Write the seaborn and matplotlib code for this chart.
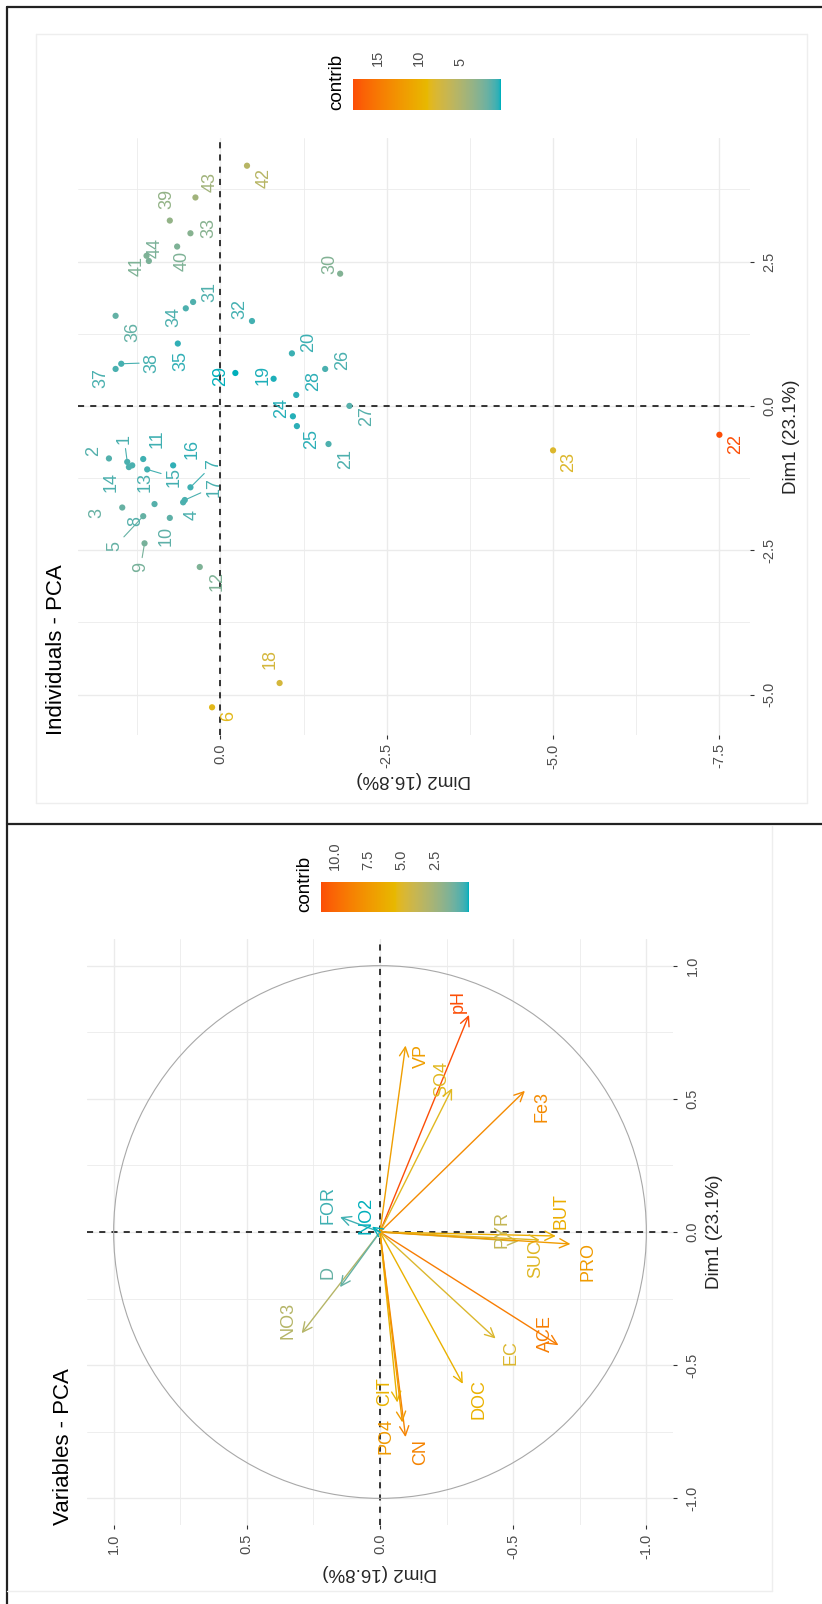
import numpy as np
import pandas as pd
import matplotlib
matplotlib.use("Agg")
import matplotlib.pyplot as plt
import seaborn as sns
from matplotlib.colors import ListedColormap, Normalize, to_rgb
from matplotlib.cm import ScalarMappable
from matplotlib.lines import Line2D
from matplotlib.patches import Circle

# ---------------- data ----------------
var_names = ["pH", "VP", "SO4", "Fe3", "BUT", "PYR", "SUC", "PRO", "ACE",
             "EC", "DOC", "CN", "CIT", "PO4", "NO3", "D", "FOR", "NO2"]
var_dim1 = [0.815, 0.70, 0.54, 0.53, -0.015, -0.035, -0.03, -0.045, -0.425,
            -0.40, -0.57, -0.77, -0.64, -0.715, -0.38, -0.207, 0.056, 0.02]
var_dim2 = [-0.334, -0.096, -0.271, -0.544, -0.66, -0.52, -0.60, -0.715, -0.67,
            -0.434, -0.311, -0.096, -0.065, -0.084, 0.294, 0.15, 0.15, 0.03]

ind_ids = [str(i) for i in range(1, 45)]
ind_dim1 = [-0.97, -0.91, -1.76, -1.67, -1.91, -5.22, -1.41, -1.70, -2.38, -1.94,
            -0.92, -2.79, -1.03, -1.06, -1.10, -1.03, -1.63, -4.80, 0.47, 0.91,
            -0.66, -0.50, -0.77, -0.18, -0.35, 0.64, 0.00, 0.19, 0.57, 2.29,
            1.80, 1.47, 2.99, 1.69, 1.08, 1.56, 0.64, 0.73, 3.21, 2.76,
            2.60, 4.16, 3.61, 2.51]
ind_dim2 = [1.40, 1.675, 1.475, 0.56, 1.16, 0.125, 0.45, 0.99, 1.14, 0.76,
            1.16, 0.31, 1.325, 1.375, 1.10, 0.71, 0.535, -0.89, -0.80, -1.075,
            -1.625, -7.5, -5.0, -1.09, -1.15, -1.575, -1.94, -1.14, -0.225, -1.80,
            0.41, -0.475, 0.45, 0.52, 0.64, 1.575, 1.575, 1.49, 0.76, 0.65,
            1.11, -0.40, 0.375, 1.075]

dim1_label = "Dim1 (23.1%)"
dim2_label = "Dim2 (16.8%)"
ind_title = "Individuals - PCA"
var_title = "Variables - PCA"
legend_title = "contrib"
ind_cbar_ticks = [5, 10, 15]
var_cbar_ticks = [2.5, 5.0, 7.5, 10.0]
gradient_cols = ["#00AFBB", "#E7B800", "#FC4E07"]

# contribution of each element to the Dim1-Dim2 plane (%)
ind_d2 = np.array(ind_dim1) ** 2 + np.array(ind_dim2) ** 2
ind_contrib = 100 * ind_d2 / ind_d2.sum()
var_d2 = np.array(var_dim1) ** 2 + np.array(var_dim2) ** 2
var_contrib = 100 * var_d2 / var_d2.sum()

ind_df = pd.DataFrame({"id": ind_ids, "Dim1": ind_dim1, "Dim2": ind_dim2,
                       "contrib": ind_contrib})
var_df = pd.DataFrame({"name": var_names, "Dim1": var_dim1, "Dim2": var_dim2,
                       "contrib": var_contrib})

# ---------------- layout / style (image pixels) ----------------
ind_label_offset = {
    "1": (-3, -23), "2": (-15, -7), "3": (-25, 5), "4": (9, 13), "5": (-28, 30),
    "6": (17, 9), "7": (23, -23), "8": (-19, 17), "9": (-4, 24), "10": (-4, 18),
    "11": (14, -20), "12": (17, 14), "13": (13, 17), "14": (-18, 15), "15": (27, 8),
    "16": (19, -16), "17": (29, -13), "18": (-9, -24), "19": (-10, -4), "20": (17, -11),
    "21": (17, 15), "22": (16, 9), "23": (16, 12), "24": (-11, -8), "25": (15, 13),
    "26": (17, -9), "27": (17, 10), "28": (17, -14), "29": (-15, 3), "30": (-10, -10),
    "31": (17, -10), "32": (-12, -12), "33": (18, -5), "34": (-12, 9), "35": (3, 17),
    "36": (17, 16), "37": (-15, 9), "38": (31, -1), "39": (-3, -22), "40": (5, 14),
    "41": (-9, 10), "42": (17, 12), "43": (15, -15), "44": (6, -13),
}
ind_segments = {"1", "5", "7", "9", "15", "17", "38"}
var_label_offset = {
    "pH": (-11, -13), "VP": (16, 10), "SO4": (-10, -9), "Fe3": (17, 16),
    "BUT": (5, -25), "PYR": (-17, -12), "SUC": (-4, 19), "PRO": (18, 18),
    "ACE": (-13, -12), "EC": (15, 14), "DOC": (16, 15), "CN": (15, 15),
    "CIT": (-13, -11), "PO4": (-16, 14), "FOR": (-12, -12), "NO2": (-6, -11),
    "D": (-12, -15), "NO3": (-14, -13),
}

FIG_W, FIG_H, DPI = 822, 1604, 100
sns.set_style("white")
plt.rcParams["font.family"] = ["Liberation Sans", "DejaVu Sans"]
plt.rcParams["axes.unicode_minus"] = False

TICK_COL = "#4D4D4D"
GRID_COL = "#EBEBEB"
TICK_FS = 10.5
LAB_FS = 13
AXT_FS = 13.5


# gradient interpolated in CIELAB (like ggplot's gradientn)
def _srgb_to_lab(c):
    c = np.asarray(c, float)
    lin = np.where(c <= 0.04045, c / 12.92, ((c + 0.055) / 1.055) ** 2.4)
    M = np.array([[0.4124564, 0.3575761, 0.1804375],
                  [0.2126729, 0.7151522, 0.0721750],
                  [0.0193339, 0.1191920, 0.9503041]])
    xyz = M @ lin / np.array([0.95047, 1.0, 1.08883])
    d = 6 / 29
    f = np.where(xyz > d ** 3, np.cbrt(xyz), xyz / (3 * d * d) + 4 / 29)
    return np.array([116 * f[1] - 16, 500 * (f[0] - f[1]), 200 * (f[1] - f[2])])


def _lab_to_srgb(lab):
    L, a, b = lab
    fy = (L + 16) / 116
    fx = fy + a / 500
    fz = fy - b / 200
    d = 6 / 29
    fs = np.array([fx, fy, fz])
    xyz = np.where(fs > d, fs ** 3, 3 * d * d * (fs - 4 / 29)) * np.array([0.95047, 1.0, 1.08883])
    Minv = np.array([[3.2404542, -1.5371385, -0.4985314],
                     [-0.9692660, 1.8760108, 0.0415560],
                     [0.0556434, -0.2040259, 1.0572252]])
    lin = np.clip(Minv @ xyz, 0, 1)
    c = np.where(lin <= 0.0031308, 12.92 * lin, 1.055 * lin ** (1 / 2.4) - 0.055)
    return np.clip(c, 0, 1)


labs = [_srgb_to_lab(to_rgb(c)) for c in gradient_cols]
ramp = []
for t in np.linspace(0, 1, 256):
    seg = min(int(t * 2), 1)
    u = t * 2 - seg
    ramp.append(_lab_to_srgb(labs[seg] * (1 - u) + labs[seg + 1] * u))
cmap = ListedColormap(ramp, name="fx_lab")

fig = plt.figure(figsize=(FIG_W / DPI, FIG_H / DPI), dpi=DPI)
fig.patch.set_facecolor("white")


def box(x0, y0, x1, y1):
    return [x0 / FIG_W, 1 - y1 / FIG_H, (x1 - x0) / FIG_W, (y1 - y0) / FIG_H]


def fline(x0, y0, x1, y1, **kw):
    fig.add_artist(Line2D([x0 / FIG_W, x1 / FIG_W], [1 - y0 / FIG_H, 1 - y1 / FIG_H],
                          transform=fig.transFigure, **kw))


def fmt(v):
    return f"{v:.1f}"


def style_panel(ax, xlim, ylim, xmaj, xmin, ymaj, ymin, xlabelpad):
    ax.set_xlim(*xlim)
    ax.set_ylim(*ylim)
    ax.set_xticks(xmaj)
    ax.set_xticks(xmin, minor=True)
    ax.set_yticks(ymaj)
    ax.set_yticks(ymin, minor=True)
    ax.set_xticklabels([fmt(v) for v in xmaj])
    ax.set_yticklabels([fmt(v) for v in ymaj])
    ax.grid(which="major", color=GRID_COL, lw=1.0)
    ax.grid(which="minor", color=GRID_COL, lw=0.6)
    ax.set_axisbelow(True)
    for s in ax.spines.values():
        s.set_visible(False)
    ax.set_facecolor("white")
    ax.yaxis.tick_right()
    ax.yaxis.set_label_position("right")
    ax.tick_params(which="minor", length=0)
    ax.tick_params(axis="x", which="major", bottom=True, length=3, width=0.8,
                   color="#333333", labelrotation=90, labelsize=TICK_FS,
                   labelcolor=TICK_COL, pad=3)
    ax.tick_params(axis="y", which="major", right=True, left=False, labelright=True,
                   labelleft=False, length=3, width=0.8, color="#333333",
                   labelrotation=90, labelsize=TICK_FS, labelcolor=TICK_COL, pad=6)
    for t in ax.get_yticklabels():
        t.set_verticalalignment("center")
    ax.axhline(0, color="black", lw=1.1, ls=(0, (4, 4)), zorder=1.5)
    ax.axvline(0, color="black", lw=1.1, ls=(0, (4, 4)), zorder=1.5)
    ax.set_xlabel(dim2_label, rotation=180, fontsize=AXT_FS, labelpad=xlabelpad)
    ax.set_ylabel(dim1_label, rotation=90, fontsize=AXT_FS, labelpad=5)


def add_cbar(bx, norm, ticks, title_x):
    cax = fig.add_axes(box(*bx))
    sm = ScalarMappable(norm=norm, cmap=cmap)
    cb = fig.colorbar(sm, cax=cax, orientation="horizontal")
    cb.outline.set_visible(False)
    cb.set_ticks(ticks, labels=[f"{t:g}" if isinstance(t, int) else fmt(t) for t in ticks])
    cax.minorticks_off()
    cax.invert_xaxis()
    cax.tick_params(axis="x", which="major", direction="in", length=6, width=1.2,
                    color="white", top=True, bottom=True, labeltop=True,
                    labelbottom=False, labelrotation=90, labelsize=TICK_FS,
                    labelcolor=TICK_COL, pad=9)
    fig.text(title_x / FIG_W, 1 - bx[3] / FIG_H, legend_title, rotation=90,
             ha="center", va="bottom", fontsize=AXT_FS, color="black")


# ---------------- frames ----------------
fline(7, 7, 822, 7, color="#222222", lw=1.6)
fline(7, 7, 7, 1604, color="#222222", lw=1.6)
fline(7, 824, 822, 824, color="#222222", lw=1.6)
fline(36, 34, 807, 34, color="#EEEEEE", lw=1)
fline(36, 34, 36, 803, color="#EEEEEE", lw=1)
fline(807, 34, 807, 803, color="#EEEEEE", lw=1)
fline(36, 803, 807, 803, color="#EEEEEE", lw=1)
fline(772, 826, 772, 1591, color="#EEEEEE", lw=1)
fline(7, 1591, 772, 1591, color="#EEEEEE", lw=1)

# ---------------- Individuals panel (top) ----------------
ax1 = fig.add_axes(box(78, 138, 750, 735))
style_panel(ax1, (2.14, -7.96), (-5.70, 4.64),
            [-7.5, -5.0, -2.5, 0.0], [-6.25, -3.75, -1.25, 1.25],
            [-5.0, -2.5, 0.0, 2.5], [-3.75, -1.25, 1.25, 3.75], 2)
ind_norm = Normalize(vmin=ind_df["contrib"].min(), vmax=ind_df["contrib"].max())
sns.scatterplot(data=ind_df, x="Dim2", y="Dim1", hue="contrib", palette=cmap,
                hue_norm=ind_norm, legend=False, s=20, linewidth=0, ax=ax1, zorder=3)
ax1.set_xlabel(dim2_label, rotation=180, fontsize=AXT_FS, labelpad=2)
ax1.set_ylabel(dim1_label, rotation=90, fontsize=AXT_FS, labelpad=5)
for _, r in ind_df.iterrows():
    col = cmap(ind_norm(r["contrib"]))
    dx, dy = ind_label_offset[r["id"]]
    ap = None
    if r["id"] in ind_segments:
        ap = dict(arrowstyle="-", color=col, lw=0.8, shrinkA=1, shrinkB=2)
    ax1.annotate(r["id"], xy=(r["Dim2"], r["Dim1"]), xytext=(dx, -dy),
                 textcoords="offset pixels", rotation=90, ha="center", va="center",
                 fontsize=LAB_FS, color=col, arrowprops=ap, zorder=4)
fig.text(57 / FIG_W, 1 - 735 / FIG_H, ind_title, rotation=90, ha="center",
         va="bottom", fontsize=16, color="black")
add_cbar((353, 79, 501, 110), ind_norm, ind_cbar_ticks, 337)

# ---------------- Variables panel (bottom) ----------------
ax2 = fig.add_axes(box(87, 939, 673, 1525))
style_panel(ax2, (1.1, -1.1), (-1.1, 1.1),
            [-1.0, -0.5, 0.0, 0.5, 1.0], [-0.75, -0.25, 0.25, 0.75],
            [-1.0, -0.5, 0.0, 0.5, 1.0], [-0.75, -0.25, 0.25, 0.75], 4)
ax2.add_patch(Circle((0, 0), 1, fill=False, ec="#A8A8A8", lw=0.8, zorder=2))
var_norm = Normalize(vmin=var_df["contrib"].min(), vmax=var_df["contrib"].max())
for _, r in var_df.iterrows():
    col = cmap(var_norm(r["contrib"]))
    ax2.annotate("", xy=(r["Dim2"], r["Dim1"]), xytext=(0, 0),
                 arrowprops=dict(arrowstyle="->,head_length=0.45,head_width=0.22",
                                 color=col, lw=1.0, shrinkA=0, shrinkB=0,
                                 mutation_scale=15), zorder=3)
for _, r in var_df.iterrows():
    col = cmap(var_norm(r["contrib"]))
    dx, dy = var_label_offset[r["name"]]
    ax2.annotate(r["name"], xy=(r["Dim2"], r["Dim1"]), xytext=(dx, -dy),
                 textcoords="offset pixels", rotation=90, ha="center", va="center",
                 fontsize=LAB_FS, color=col, zorder=4)
fig.text(63 / FIG_W, 1 - 1525 / FIG_H, var_title, rotation=90, ha="center",
         va="bottom", fontsize=16, color="black")
add_cbar((321, 882, 469, 912), var_norm, var_cbar_ticks, 305)

fig.savefig("out.png", dpi=DPI, facecolor="white")
